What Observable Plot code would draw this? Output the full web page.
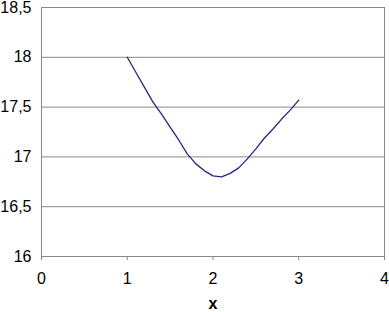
<!DOCTYPE html>
<html>
<head>
<meta charset="utf-8">
<script src="https://cdn.jsdelivr.net/npm/d3@7"></script>
<script src="https://cdn.jsdelivr.net/npm/@observablehq/plot@0.6"></script>
<style>
  html, body { margin: 0; padding: 0; background: #fff; }
  #chart svg { display: block; }
</style>
</head>
<body>
<div id="chart"></div>
<script>
const xs = [1.0, 1.1, 1.2, 1.3, 1.4, 1.5, 1.6, 1.7, 1.8, 1.9, 2.0, 2.1, 2.2, 2.3, 2.4, 2.5, 2.6, 2.7, 2.8, 2.9, 3.0];
const ys = [18.00, 17.85, 17.70, 17.55, 17.43, 17.30, 17.17, 17.03, 16.93, 16.86, 16.81, 16.80, 16.835, 16.89, 16.98, 17.08, 17.19, 17.28, 17.38, 17.47, 17.57];
const xTicks = [0, 1, 2, 3, 4];
const yTicks = [16, 16.5, 17, 17.5, 18, 18.5];
const xLabel = "x";

const data = xs.map((x, i) => ({x, y: ys[i]}));
const fmt = d => String(d).replace(".", ",");

const chart = Plot.plot({
  width: 389,
  height: 312,
  marginLeft: 41,
  marginRight: 5,
  marginTop: 7,
  marginBottom: 56,
  style: {fontFamily: "'Liberation Sans', Arial, sans-serif", fontSize: "16px", background: "#fff", color: "#000"},
  x: {domain: [0, 4]},
  y: {domain: [16, 18.5]},
  marks: [
    Plot.ruleY(yTicks, {stroke: "#888", strokeWidth: 1}),
    Plot.frame({stroke: "#888", strokeWidth: 1}),
    Plot.axisX(xTicks, {tickSize: 4, text: null, stroke: "#888", label: null}),
    Plot.axisX(xTicks, {tickSize: 0, tickPadding: 16, tickFormat: d => String(d), fontSize: 16, label: null}),
    Plot.axisY(yTicks, {tickSize: 0, tickPadding: 10, tickFormat: fmt, fontSize: 16, label: null}),
    Plot.line(data, {x: "x", y: "y", stroke: "#262680", strokeWidth: 1.3}),
    Plot.text([xLabel], {frameAnchor: "bottom", dy: 52, fontWeight: "bold", fontSize: 16, text: d => d})
  ]
});
document.getElementById("chart").appendChild(chart);
</script>
</body>
</html>
